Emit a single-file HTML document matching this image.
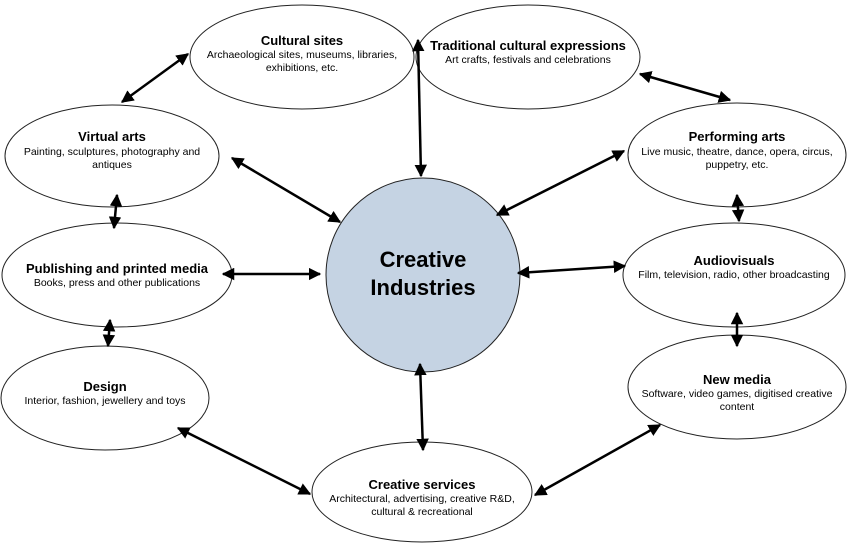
<!DOCTYPE html>
<html><head><meta charset="utf-8"><style>
html,body{margin:0;padding:0;background:#fff;}
svg{display:block;}
text{font-family:"Liberation Sans",Arial,sans-serif;fill:#000;}
.t{font-weight:bold;font-size:13px;}
.s{font-size:10.5px;}
</style></head><body>
<svg width="850" height="544" viewBox="0 0 850 544" xmlns="http://www.w3.org/2000/svg">
<defs>
<marker id="a" viewBox="0 0 10 10" refX="9" refY="5" markerWidth="5" markerHeight="5" orient="auto-start-reverse">
<path d="M0,0 L10,5 L0,10 z" fill="#000"/></marker>
</defs>
<g fill="#fff" stroke="#222" stroke-width="1">
<ellipse cx="302" cy="57" rx="112" ry="52"/>
<ellipse cx="528" cy="57" rx="112" ry="52"/>
<ellipse cx="112" cy="156" rx="107" ry="51"/>
<ellipse cx="737" cy="155" rx="109" ry="52"/>
<ellipse cx="117" cy="275" rx="115" ry="52"/>
<ellipse cx="734" cy="275" rx="111" ry="52"/>
<ellipse cx="105" cy="398" rx="104" ry="52"/>
<ellipse cx="737" cy="387" rx="109" ry="52"/>
<ellipse cx="422" cy="492" rx="110" ry="50"/>
</g>
<circle cx="423" cy="275" r="97" fill="#c5d3e3" stroke="#222" stroke-width="1"/>
<g stroke="#000" stroke-width="2.5" marker-start="url(#a)" marker-end="url(#a)">
<line x1="188" y1="54" x2="122" y2="102"/>
<line x1="640" y1="74" x2="730" y2="100"/>
<line x1="418" y1="40" x2="421" y2="176"/>
<line x1="232" y1="158" x2="340" y2="222"/>
<line x1="624" y1="151" x2="497" y2="215"/>
<line x1="117" y1="195" x2="114" y2="228"/>
<line x1="223" y1="274" x2="320" y2="274"/>
<line x1="518" y1="273" x2="625" y2="266"/>
<line x1="737" y1="195" x2="739" y2="221"/>
<line x1="110" y1="320" x2="108" y2="346"/>
<line x1="737" y1="313" x2="737" y2="346"/>
<line x1="178" y1="428" x2="310" y2="494"/>
<line x1="420" y1="364" x2="423" y2="450"/>
<line x1="660" y1="425" x2="535" y2="495"/>
</g>
<g text-anchor="middle">
<text x="423" y="267" style="font-size:22px;font-weight:bold">Creative</text>
<text x="423" y="295" style="font-size:22px;font-weight:bold">Industries</text>
<text class="t" x="302" y="45">Cultural sites</text>
<text class="s" x="302" y="58">Archaeological sites, museums, libraries,</text>
<text class="s" x="302" y="71">exhibitions, etc.</text>
<text class="t" x="528" y="50">Traditional cultural expressions</text>
<text class="s" x="528" y="63">Art crafts, festivals and celebrations</text>
<text class="t" x="112" y="141">Virtual arts</text>
<text class="s" x="112" y="155">Painting, sculptures, photography and</text>
<text class="s" x="112" y="168">antiques</text>
<text class="t" x="737" y="141">Performing arts</text>
<text class="s" x="737" y="155">Live music, theatre, dance, opera, circus,</text>
<text class="s" x="737" y="168">puppetry, etc.</text>
<text class="t" x="117" y="273">Publishing and printed media</text>
<text class="s" x="117" y="286">Books, press and other publications</text>
<text class="t" x="734" y="265">Audiovisuals</text>
<text class="s" x="734" y="278">Film, television, radio, other broadcasting</text>
<text class="t" x="105" y="391">Design</text>
<text class="s" x="105" y="404">Interior, fashion, jewellery and toys</text>
<text class="t" x="737" y="384">New media</text>
<text class="s" x="737" y="397">Software, video games, digitised creative</text>
<text class="s" x="737" y="410">content</text>
<text class="t" x="422" y="489">Creative services</text>
<text class="s" x="422" y="502">Architectural, advertising, creative R&amp;D,</text>
<text class="s" x="422" y="515">cultural &amp; recreational</text>
</g>
</svg>
</body></html>
